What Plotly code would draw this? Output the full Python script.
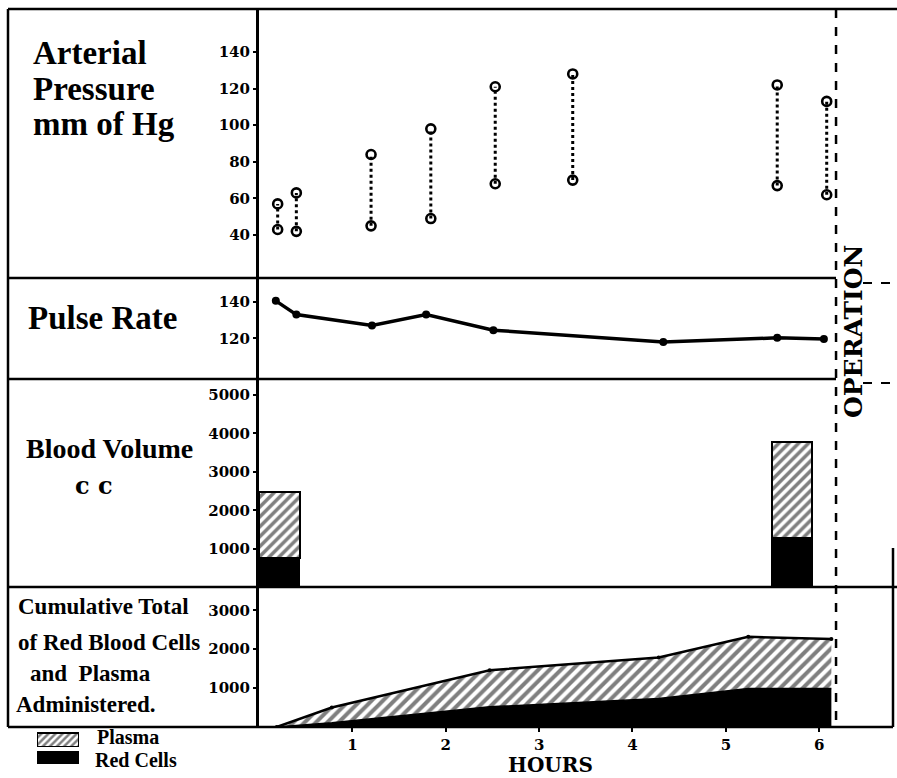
import plotly.graph_objects as go

# ---------------- data ----------------
pressure_hours = [0.20, 0.40, 1.20, 1.84, 2.53, 3.36, 5.55, 6.08]
systolic = [57, 63, 84, 98, 121, 128, 122, 113]
diastolic = [43, 42, 45, 49, 68, 70, 67, 62]

pulse_hours = [0.18, 0.40, 1.21, 1.79, 2.51, 4.33, 5.55, 6.05]
pulse_rate = [140.5, 133, 127, 133, 124.5, 118, 120.3, 119.6]

blood_hours = [0.22, 5.71]
blood_red = [760, 1270]
blood_plasma = [1710, 2500]

cum_hours = [0.19, 0.78, 2.47, 4.28, 5.24, 6.13]
cum_red = [0, 110, 520, 730, 990, 990]
cum_plasma = [0, 390, 940, 1060, 1330, 1270]

operation_hour = 6.18
hour_ticks = [1, 2, 3, 4, 5, 6]
pressure_ticks = [40, 60, 80, 100, 120, 140]
pulse_ticks = [120, 140]
volume_ticks = [1000, 2000, 3000, 4000, 5000]
cum_ticks = [1000, 2000, 3000]

legend_labels = ["Red Cells", "Plasma"]
legend_swatch = [1, 1]

# ---------------- helpers ----------------
W, H = 897, 778
def px(x):
    return x / W
def py(y):
    return 1 - y / H

XRANGE = [0, 6.79]
XDOM = [px(259), px(893)]
SERIF = "Liberation Serif"
TICKFONT = dict(family="DejaVu Serif", size=15, color="black", weight="bold")
HATCH = dict(shape="/", fgcolor="black", bgcolor="white", size=7, solidity=0.5)

fig = go.Figure()

# Arterial pressure: dotted vertical connectors with open circles
px_list, py_list = [], []
for h, s, d in zip(pressure_hours, systolic, diastolic):
    px_list += [h, h, None]
    py_list += [d, s, None]
fig.add_trace(go.Scatter(
    x=px_list, y=py_list, mode="lines+markers", xaxis="x", yaxis="y",
    line=dict(color="black", width=3, dash="dot"),
    marker=dict(symbol="circle-open", size=9, color="black", line=dict(width=2.6)),
    connectgaps=False))

# Pulse rate
fig.add_trace(go.Scatter(
    x=pulse_hours, y=pulse_rate, mode="lines+markers", xaxis="x2", yaxis="y2",
    line=dict(color="black", width=3.5),
    marker=dict(symbol="circle", size=8, color="black")))

# Blood volume bars
fig.add_trace(go.Bar(
    x=blood_hours, y=blood_red, width=0.43, xaxis="x3", yaxis="y3",
    marker=dict(color="black", line=dict(color="black", width=1.5))))
fig.add_trace(go.Bar(
    x=blood_hours, y=blood_plasma, width=0.43, xaxis="x3", yaxis="y3",
    marker=dict(color="white", pattern=HATCH, line=dict(color="black", width=2))))

# Cumulative totals
fig.add_trace(go.Scatter(
    x=cum_hours, y=cum_red, mode="lines", stackgroup="cum", xaxis="x4", yaxis="y4",
    line=dict(color="black", width=1.5), fillcolor="black"))
fig.add_trace(go.Scatter(
    x=cum_hours, y=cum_plasma, mode="lines+markers", stackgroup="cum", xaxis="x4", yaxis="y4",
    line=dict(color="black", width=2.5), marker=dict(size=4, color="black"),
    fillpattern=dict(shape="/", fgcolor="black", bgcolor="white", size=8, solidity=0.5)))

# Legend swatches (mini axis)
fig.add_trace(go.Bar(
    y=[legend_labels[0]], x=[legend_swatch[0]], orientation="h", width=0.75,
    xaxis="x5", yaxis="y5", marker=dict(color="black", line=dict(width=0))))
fig.add_trace(go.Bar(
    y=[legend_labels[1]], x=[legend_swatch[1]], orientation="h", width=0.75,
    xaxis="x5", yaxis="y5",
    marker=dict(color="white", pattern=dict(shape="/", fgcolor="black", bgcolor="white", size=5, solidity=0.5),
                line=dict(color="black", width=1.5))))

def yax(dom, rng, ticks):
    return dict(domain=dom, range=rng, tickvals=ticks, showline=True, linewidth=3,
                linecolor="black", ticks="outside", ticklen=3, tickwidth=2, tickcolor="black",
                showgrid=False, zeroline=False, tickfont=TICKFONT, fixedrange=True)

def xax(anchor, show=False):
    d = dict(domain=XDOM, range=XRANGE, anchor=anchor, showgrid=False, zeroline=False,
             showline=False, fixedrange=True)
    if show:
        d.update(tickvals=hour_ticks, ticks="outside", ticklen=4, tickwidth=2,
                 tickcolor="black", tickfont=dict(family="DejaVu Serif", size=15, color="black", weight="bold"))
    else:
        d.update(showticklabels=False, ticks="")
    return d

fig.update_layout(
    width=W, height=H, margin=dict(l=0, r=0, t=0, b=0),
    paper_bgcolor="white", plot_bgcolor="white", showlegend=False,
    barmode="stack",
    xaxis=xax("y"), xaxis2=xax("y2"), xaxis3=xax("y3"), xaxis4=xax("y4", True),
    yaxis=yax([py(278), py(9)], [16.5, 163.5], pressure_ticks),
    yaxis2=yax([py(379), py(278)], [97.8, 153], pulse_ticks),
    yaxis3=yax([py(587), py(379)], [0, 5420], volume_ticks),
    yaxis4=yax([py(727), py(587)], [0, 3600], cum_ticks),
    xaxis5=dict(domain=[px(37), px(79)], range=[0, 1], anchor="y5", visible=False, fixedrange=True),
    yaxis5=dict(domain=[py(766), py(731)], anchor="x5", visible=False, type="category",
                categoryorder="array", categoryarray=legend_labels, fixedrange=True),
)

# frame and dividers
L = dict(color="black", width=2.5)
shapes = [
    dict(type="line", xref="paper", yref="paper", x0=px(8), x1=px(897), y0=py(9), y1=py(9), line=L),
    dict(type="line", xref="paper", yref="paper", x0=px(8), x1=px(8), y0=py(9), y1=py(727), line=L),
    dict(type="line", xref="paper", yref="paper", x0=px(8), x1=px(836), y0=py(278), y1=py(278), line=L),
    dict(type="line", xref="paper", yref="paper", x0=px(863), x1=px(897), y0=py(283), y1=py(283),
         line=dict(color="black", width=2, dash="dash")),
    dict(type="line", xref="paper", yref="paper", x0=px(8), x1=px(836), y0=py(379), y1=py(379), line=L),
    dict(type="line", xref="paper", yref="paper", x0=px(863), x1=px(897), y0=py(383), y1=py(383),
         line=dict(color="black", width=2, dash="dash")),
    dict(type="line", xref="paper", yref="paper", x0=px(8), x1=px(897), y0=py(587), y1=py(587), line=L),
    dict(type="line", xref="paper", yref="paper", x0=px(8), x1=px(893), y0=py(727), y1=py(727), line=L),
    dict(type="line", xref="paper", yref="paper", x0=px(893), x1=px(893), y0=py(548), y1=py(727), line=L),
    dict(type="line", xref="x4", yref="paper", x0=operation_hour, x1=operation_hour, y0=py(9), y1=py(727),
         line=dict(color="black", width=2.5, dash="dash")),
]
fig.update_layout(shapes=shapes)

def label(text, x, y, size, bold=True, family=SERIF, **kw):
    fig.add_annotation(text=text, xref="paper", yref="paper", x=px(x), y=py(y),
                       xanchor=kw.pop("xanchor", "left"), yanchor="middle", showarrow=False,
                       font=dict(family=family, size=size, color="black", weight="bold" if bold else "normal"),
                       **kw)

label("Arterial", 31, 53, 33)
label("Pressure", 31, 89, 33)
label("mm of Hg", 31, 124, 33)
label("Pulse Rate", 26, 318, 33)
label("Blood Volume", 24, 448, 28)
label("c c", 73, 486, 24, family="DejaVu Serif")
label("Cumulative Total", 16, 606, 23)
label("of Red Blood Cells", 16, 642, 23)
label("and  Plasma", 28, 673, 23)
label("Administered.", 14, 704, 23)
label("Plasma", 95, 737, 20)
label("Red Cells", 93, 760, 20)
label("HOURS", 550, 765, 20, family="DejaVu Serif", xanchor="center")
label("OPERATION", 853, 332, 25, family="DejaVu Serif", xanchor="center", textangle=-90)

fig.write_html("out.html", config={"displayModeBar": False},
               post_script="document.body.style.margin='0';document.body.style.padding='0';")
